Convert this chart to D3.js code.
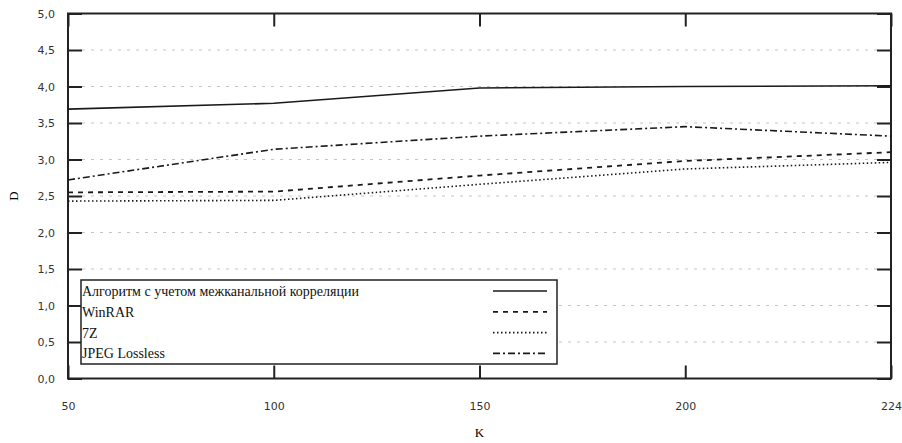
<!DOCTYPE html>
<html>
<head>
<meta charset="utf-8">
<script src="https://cdn.jsdelivr.net/npm/d3@7"></script>
<style>
  body { margin: 0; background: #fff; }
  svg { display: block; }
  .tick text { font-family: "DejaVu Sans", sans-serif; font-size: 11px; fill: #333; }
  .legend text { font-family: "Liberation Serif", serif; font-size: 14px; fill: #111; }
</style>
</head>
<body>
<svg id="chart" width="902" height="443"></svg>
<script>
// data
var kLabels  = ["50", "100", "150", "200", "224"];
var yTicks   = [0, 0.5, 1, 1.5, 2, 2.5, 3, 3.5, 4, 4.5, 5];
var algoVals = [3.69, 3.77, 3.98, 4.00, 4.01];
var rarVals  = [2.55, 2.56, 2.78, 2.98, 3.10];
var zipVals  = [2.43, 2.44, 2.66, 2.87, 2.96];
var jpegVals = [2.72, 3.14, 3.32, 3.45, 3.32];
var seriesNames = ["Алгоритм с учетом межканальной корреляции", "WinRAR", "7Z", "JPEG Lossless"];

var series = [
  { name: seriesNames[0], values: algoVals, dash: null,          width: 1.6 },
  { name: seriesNames[1], values: rarVals,  dash: "5,5",         width: 1.8 },
  { name: seriesNames[2], values: zipVals,  dash: "1.5,2.5",     width: 1.6 },
  { name: seriesNames[3], values: jpegVals, dash: "7,3,2,3",     width: 1.6 }
];

var plotLeft = 68, plotRight = 891, plotTop = 13.5, plotBottom = 378.5;

var svg = d3.select("#chart");

var x = d3.scalePoint().domain(kLabels).range([plotLeft, plotRight]).padding(0);
var y = d3.scaleLinear().domain([0, 5]).range([plotBottom, plotTop]);

var comma = d3.formatLocale({ decimal: ",", thousands: " ", grouping: [3], currency: ["", ""] }).format(".1f");

// grid
svg.append("g")
  .selectAll("line")
  .data(yTicks.filter(d => d > 0 && d < 5))
  .enter().append("line")
  .attr("x1", plotLeft + 14).attr("x2", plotRight - 14)
  .attr("y1", d => y(d)).attr("y2", d => y(d))
  .attr("stroke", "#c4c4c4")
  .attr("stroke-width", 1)
  .attr("stroke-dasharray", "3,6");

// axes, ticks pointing inward
function styleAxis(g) {
  g.select(".domain").remove();
  g.selectAll(".tick line").attr("stroke", "#222").attr("stroke-width", 2);
}

svg.append("g").attr("transform", "translate(" + plotLeft + ",0)")
  .call(d3.axisLeft(y).tickValues(yTicks).tickSize(-14).tickPadding(13).tickFormat(comma))
  .call(styleAxis);

svg.append("g").attr("transform", "translate(" + plotRight + ",0)")
  .call(d3.axisRight(y).tickValues(yTicks).tickSize(-14).tickFormat(""))
  .call(styleAxis);

svg.append("g").attr("transform", "translate(0," + plotBottom + ")")
  .call(d3.axisBottom(x).tickSize(-13).tickPadding(24))
  .call(styleAxis);

svg.append("g").attr("transform", "translate(0," + plotTop + ")")
  .call(d3.axisTop(x).tickSize(-13).tickFormat(""))
  .call(styleAxis);

// border
svg.append("rect")
  .attr("x", plotLeft).attr("y", plotTop)
  .attr("width", plotRight - plotLeft).attr("height", plotBottom - plotTop)
  .attr("fill", "none")
  .attr("stroke", "#222")
  .attr("stroke-width", 2);

// lines
var line = d3.line()
  .x((d, i) => x(kLabels[i]))
  .y(d => y(d));

svg.append("g")
  .selectAll("path")
  .data(series)
  .enter().append("path")
  .attr("d", d => line(d.values))
  .attr("fill", "none")
  .attr("stroke", "#1a1a1a")
  .attr("stroke-width", d => d.width)
  .attr("stroke-dasharray", d => d.dash);

// axis titles
svg.append("text")
  .attr("transform", "translate(18,196) rotate(-90)")
  .attr("text-anchor", "middle")
  .style("font-family", "Liberation Serif, serif")
  .style("font-size", "13px")
  .text("D");

svg.append("text")
  .attr("x", x("150")).attr("y", 437)
  .attr("text-anchor", "middle")
  .style("font-family", "Liberation Serif, serif")
  .style("font-size", "13px")
  .text("K");

// legend
var legend = svg.append("g").attr("class", "legend");
legend.append("rect")
  .attr("x", 81).attr("y", 280)
  .attr("width", 476).attr("height", 84)
  .attr("fill", "#fff")
  .attr("stroke", "#222")
  .attr("stroke-width", 1.5);

var rows = legend.selectAll("g.row")
  .data(series)
  .enter().append("g")
  .attr("class", "row")
  .attr("transform", (d, i) => "translate(0," + (291 + i * 20.8) + ")");

rows.append("text")
  .attr("x", 82).attr("y", 5)
  .text(d => d.name);

rows.append("line")
  .attr("x1", 493).attr("x2", 547)
  .attr("y1", 0).attr("y2", 0)
  .attr("stroke", "#1a1a1a")
  .attr("stroke-width", d => d.width)
  .attr("stroke-dasharray", d => d.dash);
</script>
</body>
</html>
